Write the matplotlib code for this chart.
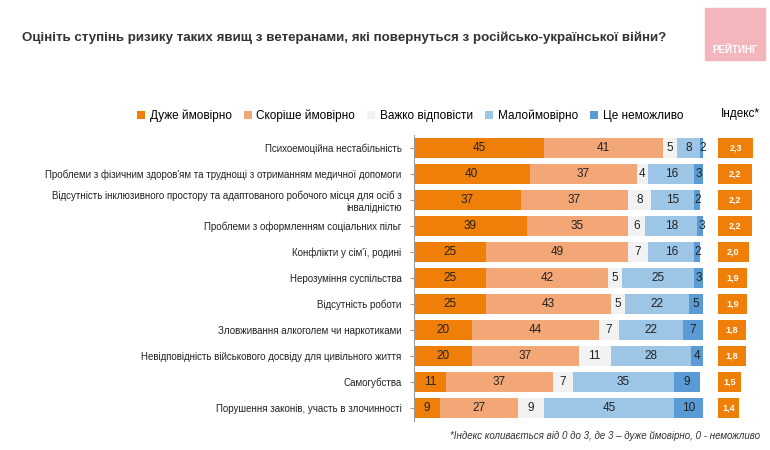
import numpy as np
import matplotlib.pyplot as plt
from matplotlib.patches import Rectangle

plt.rcParams['font.family'] = ['Liberation Sans', 'DejaVu Sans']

categories = [
    "Психоемоційна нестабільність",
    "Проблеми з фізичним здоров'ям та труднощі з отриманням медичної допомоги",
    "Відсутність інклюзивного простору та адаптованого робочого місця для осіб з\nінвалідністю",
    "Проблеми з оформленням соціальних пільг",
    "Конфлікти у сім'ї, родині",
    "Нерозуміння суспільства",
    "Відсутність роботи",
    "Зловживання алкоголем чи наркотиками",
    "Невідповідність військового досвіду для цивільного життя",
    "Самогубства",
    "Порушення законів, участь в злочинності",
]
very_likely = [45, 40, 37, 39, 25, 25, 25, 20, 20, 11, 9]
rather_likely = [41, 37, 37, 35, 49, 42, 43, 44, 37, 37, 27]
hard_to_say = [5, 4, 8, 6, 7, 5, 5, 7, 11, 7, 9]
unlikely = [8, 16, 15, 18, 16, 25, 22, 22, 28, 35, 45]
impossible = [2, 3, 2, 3, 2, 3, 5, 7, 4, 9, 10]
index_values = [2.3, 2.2, 2.2, 2.2, 2.0, 1.9, 1.9, 1.8, 1.8, 1.5, 1.4]
series_names = ["Дуже ймовірно", "Скоріше ймовірно", "Важко відповісти",
                "Малоймовірно", "Це неможливо"]
colors = ["#f07f09", "#f3a776", "#f2f2f2", "#9cc5e6", "#5b9bd5"]

fig = plt.figure(figsize=(7.7, 4.5), dpi=100)
fig.text(22 / 770, 1 - 38 / 450,
         "Оцініть ступінь ризику таких явищ з ветеранами, які повернуться з російсько-української війни?",
         fontsize=9.6, fontweight='bold', color='#333333', va='center')

# logo
fig.patches.append(Rectangle((705 / 770, 1 - 60 / 450), 60 / 770, 52 / 450,
                             transform=fig.transFigure, color='#f4b6bd'))
fig.text(735 / 770, 1 - 50 / 450, "РЕЙТИНГ", color='white', fontsize=7,
         fontweight='bold', ha='center', va='center')

ax = fig.add_axes([414 / 770, 1 - 421 / 450, 289 / 770, 286 / 450])
data = [very_likely, rather_likely, hard_to_say, unlikely, impossible]
y = np.arange(len(categories))
left = np.zeros(len(categories))
for vals, c, name in zip(data, colors, series_names):
    vals = np.array(vals)
    ax.barh(y, vals, left=left, color=c, height=0.78, label=name)
    for yi, (l, v) in enumerate(zip(left, vals)):
        ax.text(l + v / 2, yi, str(v), ha='center', va='center', fontsize=8.5, color='#222222')
    left += vals
ax.set_xlim(0, 100)
ax.set_ylim(len(categories) - 0.5, -0.5)
ax.set_yticks(y)
ax.set_yticklabels(categories, fontsize=7, color='#222222')
ax.tick_params(axis='y', length=3, color='#999999', pad=6)
ax.tick_params(axis='x', bottom=False, labelbottom=False)
for s in ['top', 'right', 'bottom']:
    ax.spines[s].set_visible(False)
ax.spines['left'].set_color('#999999')
h, l = ax.get_legend_handles_labels()
fig.legend(h, l, loc='center left', bbox_to_anchor=(132 / 770, 1 - 116 / 450), ncol=5,
           frameon=False, fontsize=8.5, handlelength=0.7, handleheight=0.7,
           columnspacing=1.0, handletextpad=0.4, borderaxespad=0)

# index column
ax2 = fig.add_axes([718 / 770, 1 - 421 / 450, 45 / 770, 286 / 450])
ax2.barh(y, index_values, color="#f07f09", height=0.78)
for yi, v in enumerate(index_values):
    ax2.text(v / 2, yi, f"{v:.1f}".replace('.', ','), ha='center', va='center',
             color='white', fontsize=6.5, fontweight='bold')
ax2.set_xlim(0, 45 / 15.3)
ax2.set_ylim(len(categories) - 0.5, -0.5)
ax2.axis('off')
fig.text(740 / 770, 1 - 114 / 450, "Індекс*", fontsize=8.5, ha='center', va='center')

fig.text(760 / 770, 1 - 436 / 450,
         "*Індекс коливається від 0 до 3, де 3 – дуже ймовірно, 0 - неможливо",
         fontsize=7, style='italic', ha='right', va='center', color='#333333')

fig.savefig("out.png", dpi=100)
